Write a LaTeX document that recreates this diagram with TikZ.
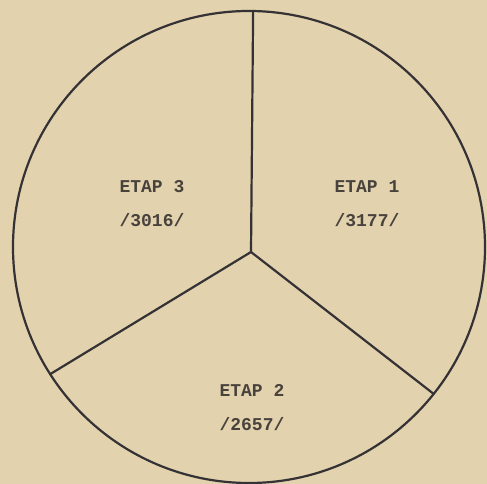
\documentclass[tikz,border=0pt]{standalone}
\usepackage{fontspec}
\setmonofont{Liberation Mono}
\usetikzlibrary{positioning, calc}

\definecolor{paper}{RGB}{227,210,174}
\definecolor{ink}{RGB}{52,50,52}
\definecolor{type}{RGB}{72,66,60}

\begin{document}
\begin{tikzpicture}[
    x=1pt, y=1pt,
    rim/.style={
        draw=ink,
        line width=2.2pt
    },
    spoke/.style={
        draw=ink,
        line width=2.2pt,
        line cap=round
    },
    stage/.style={
        text=type,
        align=center,
        inner sep=0pt,
        font=\ttfamily\bfseries\fontsize{18}{34}\selectfont
    }
]

    % Paper
    \fill[paper] (0,0) rectangle (487,484);
    \useasboundingbox (0,0) rectangle (487,484);

    % Circle
    \coordinate (ctr) at (249,237);
    \draw[rim] (ctr) circle [radius=236pt];

    % Hub and rim points
    \coordinate (hub) at (251,232);
    \coordinate (top) at ($(ctr)+(89:236)$);
    \coordinate (left) at ($(ctr)+(212.6:236)$);
    \coordinate (right) at ($(ctr)+(321.5:236)$);

    % Spokes
    \draw[spoke] (hub) -- (top);
    \draw[spoke] (hub) -- (left);
    \draw[spoke] (hub) -- (right);

    % Stages
    \node[stage] (etap1) at (367,280) {ETAP 1\\/3177/};
    \node[stage] (etap3) at (152,280) {ETAP 3\\/3016/};
    \node[stage] (etap2) at (252,76) {ETAP 2\\/2657/};

\end{tikzpicture}
\end{document}
